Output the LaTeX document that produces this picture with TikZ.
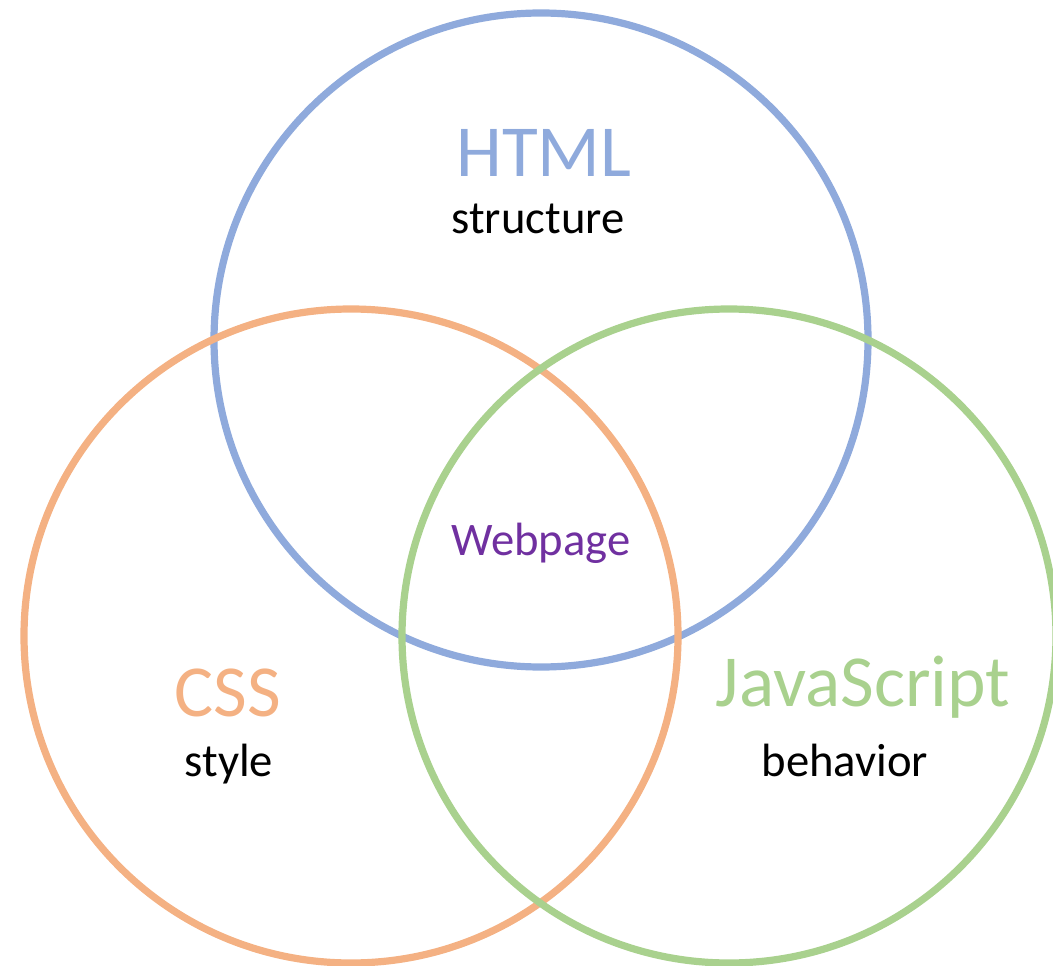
\documentclass[tikz,border=0pt]{standalone}
\usepackage{fontspec}
\setmainfont{Carlito}
\definecolor{cblue}{HTML}{8FAADC}
\definecolor{corange}{HTML}{F4B183}
\definecolor{cgreen}{HTML}{A9D18E}
\definecolor{cpurple}{HTML}{7030A0}
\tikzset{
  ring/.style={circle, draw=#1, line width=5.4pt, inner sep=0pt, minimum size=490.5pt},
  bigtitle/.style={anchor=base, font=\fontsize{55}{60}\selectfont, text=#1, inner sep=0pt},
  subtitle/.style={anchor=base, font=\fontsize{35}{40}\selectfont, text=black, inner sep=0pt}
}
\begin{document}
\begin{tikzpicture}[x=0.75pt, y=-0.75pt]
\useasboundingbox (0,0) rectangle (1053,966);
\node[ring=cblue] (html) at (541,340) {};
\node[ring=corange] (css) at (351,636) {};
\node[ring=cgreen] (js) at (729,636) {};
\node[bigtitle=cblue] (htmlt) at (544,177) {HTML};
\node[subtitle] (htmls) at (538,234) {structure};
\node[bigtitle=corange] (csst) at (228,716) {CSS};
\node[subtitle] (csss) at (229,776) {style};
\node[bigtitle=cgreen] (jst) at (863,706) {JavaScript};
\node[subtitle] (jss) at (845,776) {behavior};
\node[subtitle, text=cpurple] (web) at (541,555) {Webpage};
\end{tikzpicture}
\end{document}
